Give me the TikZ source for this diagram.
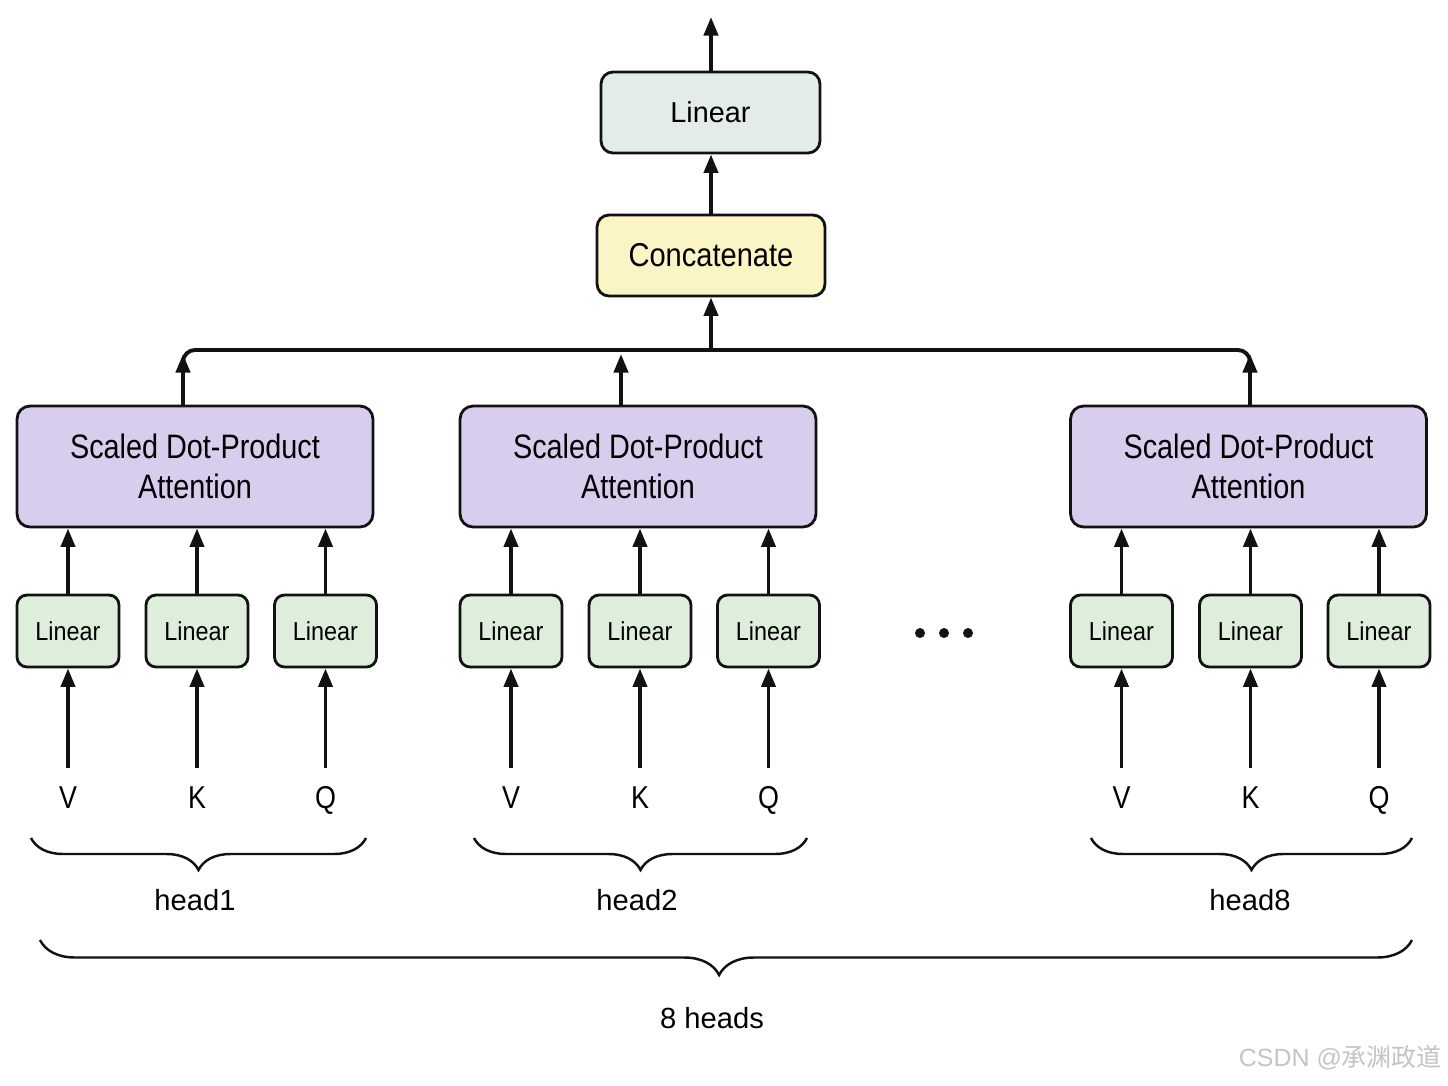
\documentclass[tikz,border=0pt]{standalone}
\usepackage{fontspec}
\setmainfont{Liberation Sans}
\newfontfamily\attfont[FakeStretch=0.85]{Liberation Sans}
\newfontfamily\catfont[FakeStretch=0.88]{Liberation Sans}
\newfontfamily\linfont[FakeStretch=0.9]{Liberation Sans}
\newfontfamily\lblfont[FakeStretch=0.85]{Liberation Sans}
\newfontfamily\cjkfont{Noto Sans CJK SC}
\usetikzlibrary{arrows.meta,decorations.pathreplacing,calc}
\definecolor{topfill}{HTML}{E3ECEB}
\definecolor{catfill}{HTML}{FBF4C4}
\definecolor{attfill}{HTML}{D9CDEE}
\definecolor{linfill}{HTML}{DDEEDA}
\definecolor{edge}{HTML}{121212}
\definecolor{wmgrey}{HTML}{C4C4C4}
\begin{document}
\begin{tikzpicture}[x=0.02cm,y=-0.02cm,
  box/.style={draw=edge,line width=1.6pt,inner sep=0pt,align=center},
  topbox/.style={box,rounded corners=0.24cm,fill=topfill,minimum width=4.38cm,minimum height=1.62cm,font=\fontsize{16.4pt}{19pt}\selectfont},
  catbox/.style={box,rounded corners=0.24cm,fill=catfill,minimum width=4.56cm,minimum height=1.62cm,font=\catfont\fontsize{18.8pt}{22pt}\selectfont},
  attbox/.style={box,rounded corners=0.26cm,fill=attfill,minimum width=7.12cm,minimum height=2.42cm,font=\attfont\fontsize{19.3pt}{22.8pt}\selectfont},
  linbox/.style={box,rounded corners=0.2cm,fill=linfill,minimum width=2.04cm,minimum height=1.44cm,font=\linfont\fontsize{14.8pt}{17pt}\selectfont},
  arr/.style={line width=2.2pt,draw=edge,-{Triangle[length=0.37cm,width=0.28cm]}},
  ln/.style={line width=2.2pt,draw=edge},
  inlbl/.style={inner sep=0pt,anchor=base,text height=0.45cm,font=\lblfont\fontsize{18pt}{20pt}\selectfont},
  headlbl/.style={inner sep=0pt,font=\fontsize{16.6pt}{20pt}\selectfont},
  bracestyle/.style={draw=edge,line width=1.4pt,decorate,decoration={brace,mirror,amplitude=#1}},
]
\useasboundingbox (0,0) rectangle (1448,1086);
\fill[white] (0,0) rectangle (1448,1086);

% top part
\node[topbox] (toplin) at (710.5,112.5) {Linear};
\node[catbox] (cat) at (711,255.5) {Concatenate};
\coordinate (out) at (711,17);
\coordinate (busC) at (711,350);
\draw[arr] (toplin.north -| out) -- (out);
\draw[arr] (cat.north -| out) -- (toplin.south -| out);
\draw[arr] (busC) -- (busC |- cat.south);

% heads
\foreach \h/\cx/\ax/\bL/\bR/\hx in {1/195/183/31/366/195, 2/638/621/474/807/637, 8/1248.5/1250/1091/1412/1250} {
  \node[attbox] (att\h) at (\cx,466.5) {Scaled Dot-Product\\Attention};
  \coordinate (bus\h) at (\ax,350);
  \draw[arr] (att\h.north -| bus\h) -- ([yshift=-0.08cm]bus\h);
  \foreach \k/\dx/\t in {v/-127/V, k/2/K, q/130.5/Q} {
    \node[linbox] (lin\h\k) at ({\cx+(\dx)},631) {Linear};
    \node[inlbl] (in\h\k) at ({\cx+(\dx)},808) {\t};
    \draw[arr, shorten <=0.34cm] (in\h\k.north -| lin\h\k.south) -- (lin\h\k.south);
    \draw[arr] (lin\h\k.north) -- (lin\h\k.north |- att\h.south);
  }
  \coordinate (bl\h) at (\bL,838);
  \coordinate (br\h) at (\bR,838);
  \draw[bracestyle=0.64cm] (bl\h) -- (br\h);
  \node[headlbl] (head\h) at (\hx,900) {head\h};
}

% bus line
\draw[ln, rounded corners=0.24cm] ([yshift=-0.3cm]bus1) -- (bus1) -- (bus8) -- ([yshift=-0.3cm]bus8);

% dots
\foreach \x in {920,944,968} \fill[edge] (\x,633) circle[radius=0.1cm];

% big brace
\coordinate (bigl) at (40,940);
\coordinate (bigr) at (1412,940);
\draw[bracestyle=0.7cm, decoration={aspect=0.495}] (bigl) -- (bigr);
\node[headlbl] (allheads) at (712,1018) {8 heads};

% watermark
\node[anchor=east, inner sep=0pt, text=wmgrey, font=\fontsize{14.2pt}{16pt}\selectfont] (wm) at (1442,1058) {CSDN @{\cjkfont 承渊政道}};
\end{tikzpicture}
\end{document}
